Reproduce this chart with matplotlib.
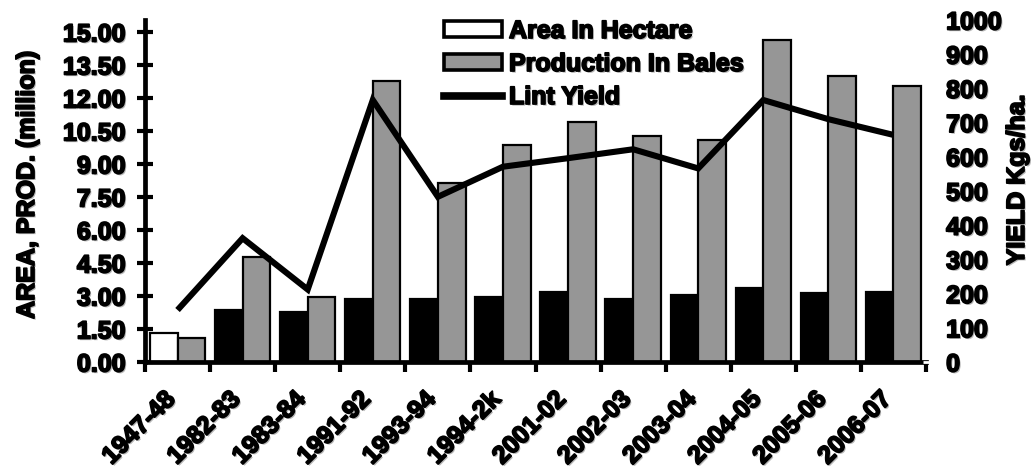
import matplotlib
matplotlib.use("Agg")
import matplotlib.pyplot as plt
import matplotlib.patheffects as pe
from matplotlib.patches import Patch
from matplotlib.lines import Line2D
from matplotlib.transforms import ScaledTranslation
import numpy as np

# Cotton statistics by season
categories = ['1947-48', '1982-83', '1983-84', '1991-92', '1993-94', '1994-2k',
              '2001-02', '2002-03', '2003-04', '2004-05', '2005-06', '2006-07']
area_mha = [1.30, 2.36, 2.29, 2.88, 2.88, 2.97, 3.17, 2.88, 3.05, 3.35, 3.15, 3.20]
production_mbales = [1.10, 4.79, 2.94, 12.77, 8.12, 9.86, 10.90, 10.27, 10.09, 14.64, 13.00, 12.55]
lint_yield = [152, 362, 212, 766, 483, 571, 596, 622, 566, 766, 710, 664]
left_ticks = [0, 1.5, 3, 4.5, 6, 7.5, 9, 10.5, 12, 13.5, 15]
right_ticks = [0, 100, 200, 300, 400, 500, 600, 700, 800, 900, 1000]

FS = 18
plt.rcParams['font.family'] = ['Liberation Sans', 'DejaVu Sans']
plt.rcParams['font.weight'] = 'bold'
# heavy lettering with a soft grey drop shadow
heavy = [pe.SimplePatchShadow(offset=(1.2, -1.2), shadow_rgbFace='#888888', alpha=0.6),
         pe.Stroke(linewidth=1.3, foreground='black'), pe.Normal()]

W, H = 1033, 472
fig = plt.figure(figsize=(W / 100, H / 100), dpi=100)
ax = fig.add_axes([145 / W, 1 - 362 / H, 781 / W, 342 / H])
ax2 = ax.twinx()

n = len(categories)
x = np.arange(n) + 0.5
bw = 0.425

area_colors = ['white'] + ['black'] * (n - 1)
ax.bar(x - bw / 2, area_mha, width=bw, color=area_colors, edgecolor='black', linewidth=1.6, zorder=2)
ax.bar(x + bw / 2, production_mbales, width=bw, color='#969696', edgecolor='black', linewidth=1.6, zorder=2)

ax2.plot(x, lint_yield, color='black', linewidth=4.4, solid_joinstyle='miter', solid_capstyle='butt', zorder=3)

ax.set_xlim(0, n)
ax.set_ylim(0, 342 / 22)
ax2.set_ylim(0, 1000)

# left axis
ax.set_yticks(left_ticks)
ax.set_yticklabels([f'{v:.2f}' for v in left_ticks])
ax.tick_params(axis='y', direction='inout', length=12, width=3, pad=8, labelsize=FS)

# category ticks: marks at the boundaries, labels at the centres
ax.set_xticks(np.arange(n + 1), minor=True)
ax.tick_params(axis='x', which='minor', direction='out', length=7, width=3)
ax.set_xticks(x)
ax.set_xticklabels(categories, rotation=45, ha='right', va='center', rotation_mode='anchor')
ax.tick_params(axis='x', which='major', length=0, pad=24, labelsize=FS)
offset = ScaledTranslation(-6 / 100, 0, fig.dpi_scale_trans)
for lab in ax.get_xticklabels():
    lab.set_transform(lab.get_transform() + offset)

for s in ['top', 'right']:
    ax.spines[s].set_visible(False)
ax.spines['left'].set_linewidth(3.4)
ax.spines['bottom'].set_linewidth(3.4)
ax.spines['bottom'].set_zorder(4)

# right axis
ax2.set_yticks(right_ticks)
ax2.tick_params(axis='y', direction='inout', length=5, width=2, color='white', pad=12, labelsize=FS)
for s in ['top', 'left', 'bottom', 'right']:
    ax2.spines[s].set_visible(False)

for lab in ax.get_yticklabels() + ax.get_xticklabels() + ax2.get_yticklabels():
    lab.set_path_effects(heavy)

fig.text(27 / W, 1 - 185 / H, 'AREA, PROD. (million)', rotation=90, ha='center', va='center',
         fontsize=FS, path_effects=heavy)
fig.text(1017 / W, 1 - 180 / H, 'YIELD Kgs/ha.', rotation=90, ha='center', va='center',
         fontsize=FS, path_effects=heavy)

handles = [Patch(facecolor='white', edgecolor='black', linewidth=2.6),
           Patch(facecolor='#969696', edgecolor='black', linewidth=2.6),
           Line2D([0], [0], color='black', linewidth=5.5)]
labels = ['Area In Hectare', 'Production In Bales', 'Lint Yield']
leg = ax2.legend(handles, labels, loc='upper left', bbox_to_anchor=(444 / W, 1 - 19 / H),
                 bbox_transform=fig.transFigure, frameon=False, fontsize=FS,
                 handlelength=2.3, handleheight=0.62, handletextpad=0.3,
                 labelspacing=0.36, borderpad=0, borderaxespad=0)
for t in leg.get_texts():
    t.set_path_effects(heavy)

fig.savefig('out.png', dpi=100)
